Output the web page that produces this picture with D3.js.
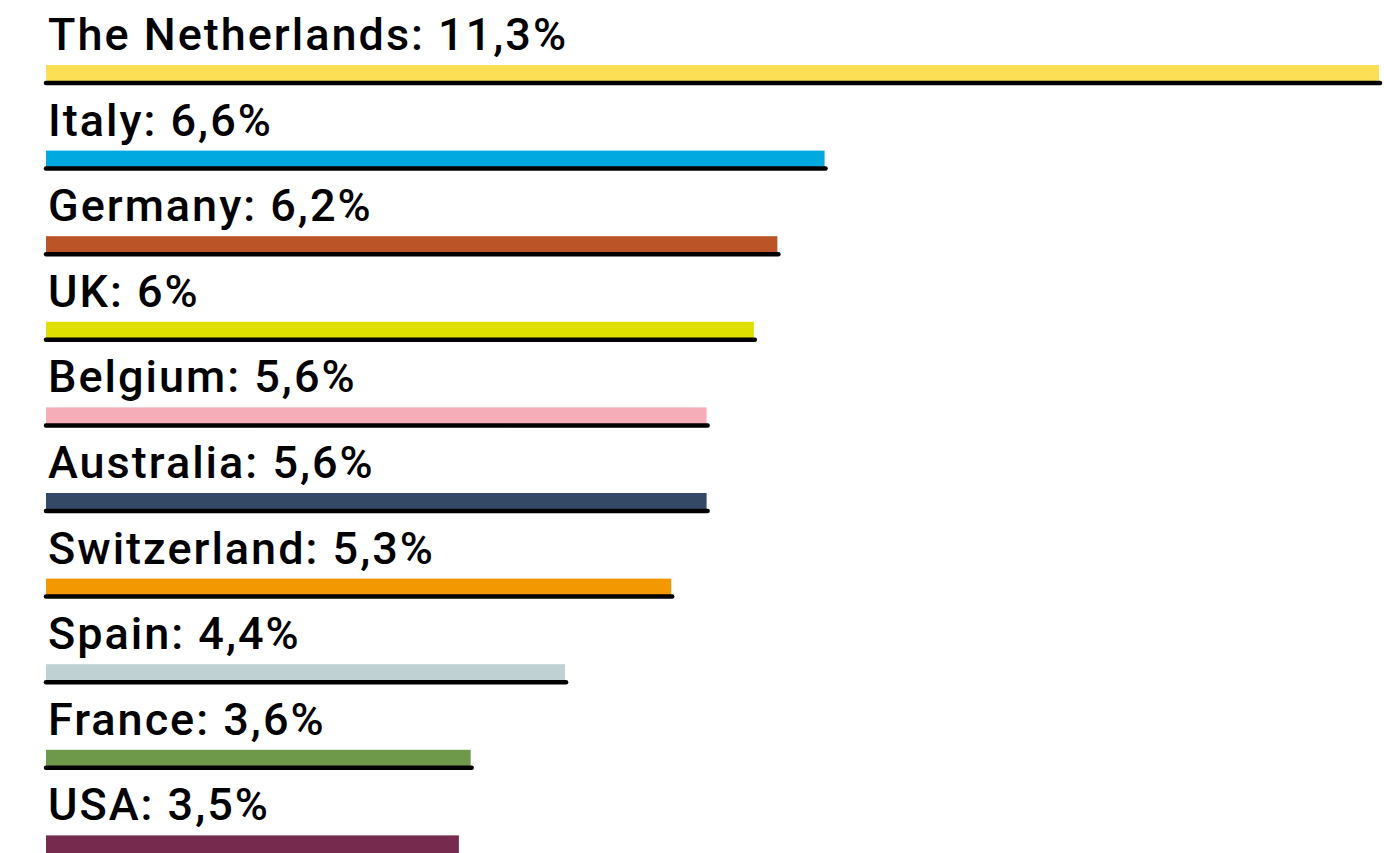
<!DOCTYPE html>
<html>
<head>
<meta charset="utf-8">
<script src="https://cdn.jsdelivr.net/npm/d3@7"></script>
<style>
  html, body { margin: 0; padding: 0; background: #fff; overflow: hidden; }
  svg { display: block; }
</style>
</head>
<body>
<svg id="chart" width="1384" height="853"></svg>
<script>
// Share by country (%), largest first
const countries = ["The Netherlands", "Italy", "Germany", "UK", "Belgium", "Australia",
                   "Switzerland", "Spain", "France", "USA"];
const shares = [11.3, 6.6, 6.2, 6, 5.6, 5.6, 5.3, 4.4, 3.6, 3.5];
const labels = ["11,3%", "6,6%", "6,2%", "6%", "5,6%", "5,6%", "5,3%", "4,4%", "3,6%", "3,5%"];
const colors = ["#fddf55", "#00a9e0", "#bb5426", "#dfdf00", "#f5adb8", "#334966",
                "#f39800", "#bfd1d3", "#6e984a", "#752a4e"];

const rows = countries.map((c, i) => ({ country: c, value: shares[i], label: labels[i], color: colors[i], last: i === countries.length - 1 }));

const svg = d3.select("#chart");

const x = d3.scaleLinear().domain([0, 11.3]).range([46, 1379]);
const y = d3.scaleBand().domain(countries).range([65, 65 + 85.6 * countries.length]).paddingInner(0).paddingOuter(0);

const barH = 17;

const row = svg.append("g").selectAll("g.row").data(rows).join("g").attr("class", "row");

row.append("text")
  .attr("x", 48)
  .attr("y", d => y(d.country) - 15)
  .attr("font-family", "Roboto, 'DejaVu Sans', sans-serif")
  .attr("font-size", 45)
  .attr("font-weight", 500)
  .attr("letter-spacing", 2)
  .attr("fill", "#000")
  .text(d => `${d.country}: ${d.label}`);

row.append("rect")
  .attr("x", x(0))
  .attr("y", d => y(d.country))
  .attr("width", d => x(d.value) - x(0))
  .attr("height", d => d.last ? 30 : barH)
  .attr("fill", d => d.color);

// underline rule beneath each bar (the bottom row runs off the page edge)
row.filter(d => !d.last).append("line")
  .attr("x1", x(0))
  .attr("x2", d => x(d.value) + 1)
  .attr("y1", d => y(d.country) + barH + 1)
  .attr("y2", d => y(d.country) + barH + 1)
  .attr("stroke", "#000")
  .attr("stroke-width", 4.5)
  .attr("stroke-linecap", "round");
</script>
</body>
</html>
